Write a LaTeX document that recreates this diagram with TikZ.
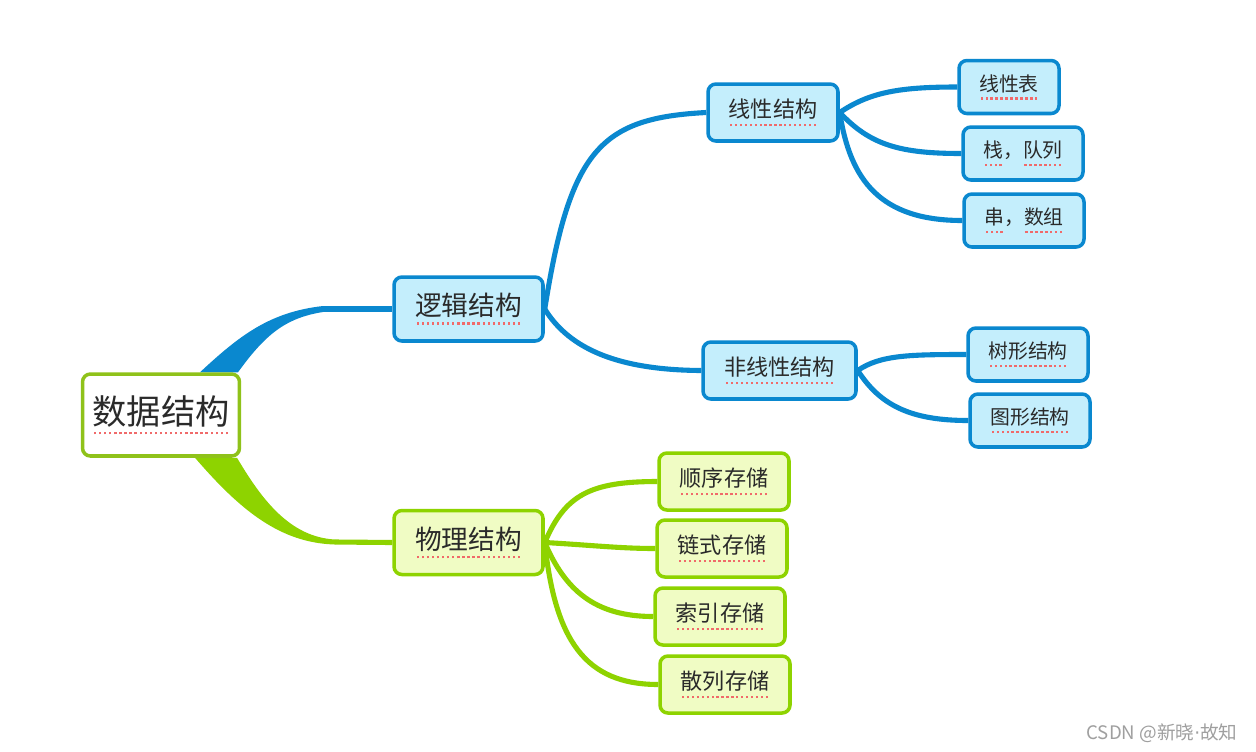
\documentclass[tikz,border=0pt]{standalone}
\usepackage{fontspec}
\setmainfont{Noto Sans CJK SC}
\newfontfamily\dotfont{DejaVu Sans}
\usepackage{xcolor}
\usetikzlibrary{positioning, backgrounds, calc}

\definecolor{lineblue}{HTML}{0A88CF}
\definecolor{boxblue}{HTML}{C4EEFC}
\definecolor{linegreen}{HTML}{8ED300}
\definecolor{boxgreen}{HTML}{F0FCC4}
\definecolor{rootgreen}{HTML}{8FC21A}
\definecolor{ulred}{HTML}{F06A6A}
\definecolor{txtgray}{HTML}{2A2A2A}

% dotted red underline below a word
\newcommand\redul[1]{\setbox0=\hbox{#1}\vtop{\offinterlineskip\copy0\kern2.6pt\hbox to\wd0{\color{ulred}\xleaders\hbox to 2.8pt{\hss\vrule width 1.35pt height 1.35pt\hss}\hfill}}}

\begin{document}
\begin{tikzpicture}[x=0.02cm, y=-0.02cm,
    topic/.style={rounded corners=4.5pt, line width=2pt, inner sep=0pt, text=txtgray},
    bluebox/.style={topic, draw=lineblue, fill=boxblue},
    greenbox/.style={topic, draw=linegreen, fill=boxgreen},
    big/.style={minimum width=29.8mm, minimum height=12.8mm, font=\fontsize{15.2}{18}\selectfont},
    mid/.style={minimum width=26mm, minimum height=11.4mm, font=\fontsize{12.6}{15}\selectfont},
    leaf/.style={minimum width=24mm, minimum height=10.6mm, font=\fontsize{11.3}{14}\selectfont},
    branch/.style={line width=2.9pt}]
    \useasboundingbox (0,0) rectangle (1256,751);

    % Root
    \node[topic, draw=rootgreen, fill=white, minimum width=31.4mm, minimum height=16.4mm,
          font=\fontsize{19.5}{23}\selectfont] (root) at (161,415) {\redul{数据结构}};

    % Logical structure (blue)
    \node[bluebox, big] (logic) at (468.5,309) {\redul{逻辑结构}};
    \node[bluebox, mid] (lin) at (773,112.5) {\redul{线性结构}};
    \node[bluebox, mid, minimum width=30.6mm] (nonlin) at (779.5,370.5) {\redul{非线性结构}};
    \node[bluebox, leaf, minimum width=20mm] (list) at (1009,87) {\redul{线性表}};
    \node[bluebox, leaf] (stack) at (1023,153.5) {\redul{栈}，\redul{队列}};
    \node[bluebox, leaf] (str) at (1024,220.5) {\redul{串}，\redul{数组}};
    \node[bluebox, leaf] (tree) at (1028,354.5) {\redul{树形结构}};
    \node[bluebox, leaf] (graph) at (1030,420.5) {\redul{图形结构}};

    % Physical structure (green)
    \node[greenbox, big] (phys) at (468.5,542.5) {\redul{物理结构}};
    \node[greenbox, mid] (seq) at (724,481.5) {\redul{顺序存储}};
    \node[greenbox, mid] (link) at (722,548.5) {\redul{链式存储}};
    \node[greenbox, mid] (index) at (720,616.5) {\redul{索引存储}};
    \node[greenbox, mid] (hash) at (725,684.5) {\redul{散列存储}};

    % Watermark
    \node[text=gray!75, font=\fontsize{10.6}{12}\selectfont] (mark) at (1162,733) {CSDN @新晓{\dotfont ·}故知};

    \begin{scope}[on background layer]
        \fill[white] (0,0) rectangle (1256,751);
        \coordinate (lj) at (323,309);
        \coordinate (gj) at (335,542);

        % Tapered main branches
        \fill[lineblue] ($(root.north)+(39,0)$) .. controls (240,335) and (270,312) .. ($(lj)+(0,-3)$)
            -- ($(lj)+(0,3)$) .. controls (285,318) and (265,335) .. ($(root.north)+(77,0)$) -- cycle;
        \fill[linegreen] ($(root.south)+(76,0)$) .. controls (262,500) and (290,537) .. ($(gj)+(0,-2.5)$)
            -- ($(gj)+(0,2.5)$) .. controls (280,543) and (240,510) .. ($(root.south)+(34,0)$) -- cycle;
        \draw[branch, lineblue] (lj) -- (logic.west);
        \draw[branch, linegreen] (gj) -- (phys.west);

        % Blue curves
        \draw[branch, lineblue] (logic.east) .. controls (570,150) and (600,118) .. (lin.west);
        \draw[branch, lineblue] (logic.east) .. controls (570,350) and (620,370) .. (nonlin.west);
        \draw[branch, lineblue] (lin.east) .. controls (870,92) and (900,87) .. (list.west);
        \draw[branch, lineblue] (lin.east) .. controls (870,145) and (900,153.5) .. (stack.west);
        \draw[branch, lineblue] (lin.east) .. controls (850,180) and (880,220.5) .. (str.west);
        \draw[branch, lineblue] (nonlin.east) .. controls (880,355) and (910,354.5) .. (tree.west);
        \draw[branch, lineblue] (nonlin.east) .. controls (880,405) and (910,420.5) .. (graph.west);

        % Green curves
        \draw[branch, linegreen] (phys.east) .. controls (565,495) and (590,481.5) .. (seq.west);
        \draw[branch, linegreen] (phys.east) .. controls (590,545) and (620,548.5) .. (link.west);
        \draw[branch, linegreen] (phys.east) .. controls (565,590) and (595,616.5) .. (index.west);
        \draw[branch, linegreen] (phys.east) .. controls (555,640) and (585,684.5) .. (hash.west);
    \end{scope}
\end{tikzpicture}
\end{document}
